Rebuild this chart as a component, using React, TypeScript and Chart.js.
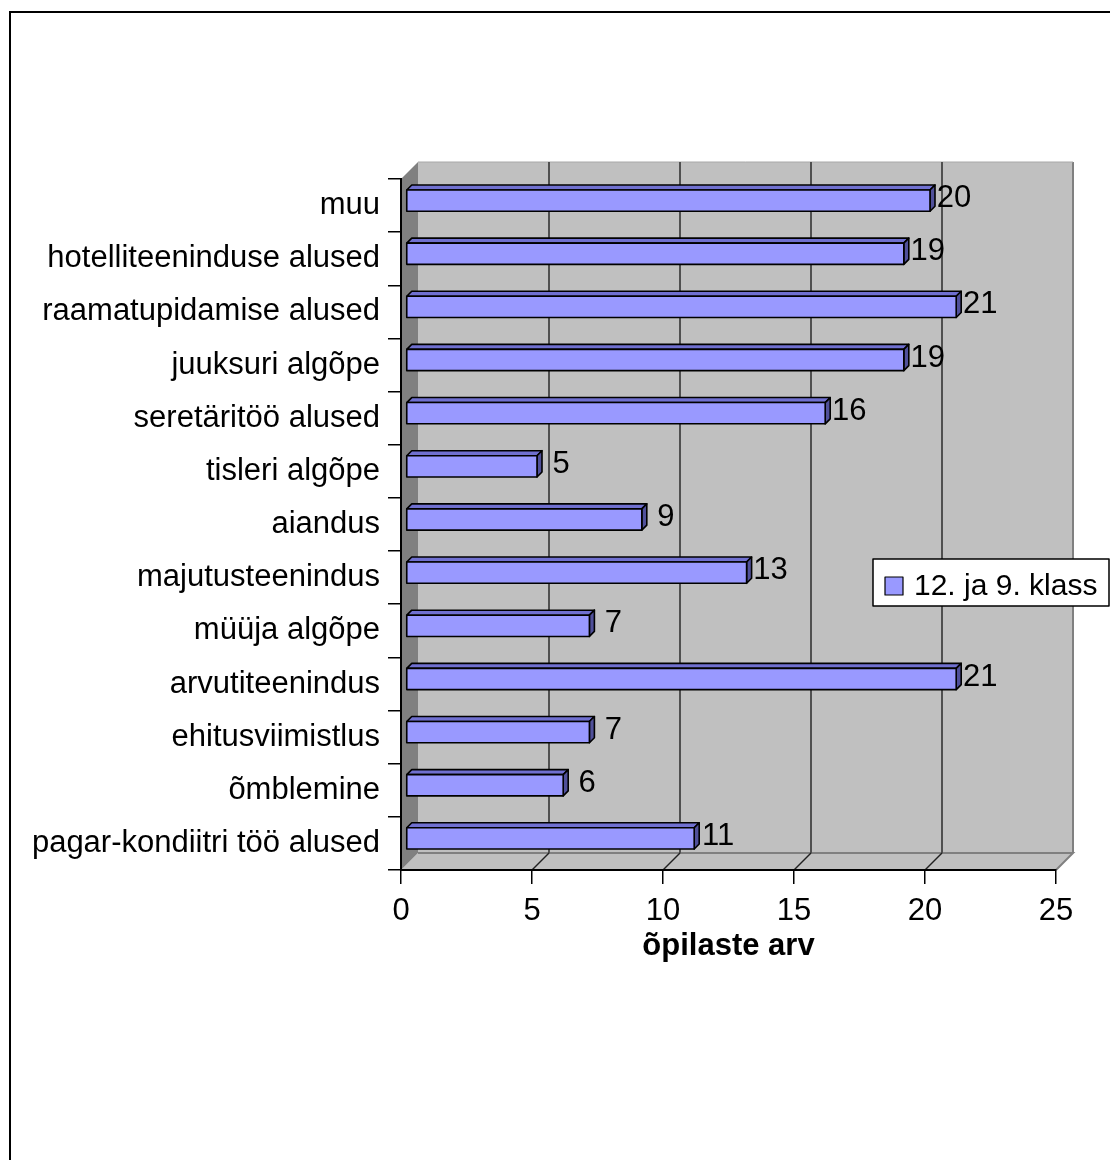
import React, { useEffect, useRef } from "react";
import { Chart, registerables } from "chart.js";

Chart.register(...registerables);

const categories = [
  "muu",
  "hotelliteeninduse alused",
  "raamatupidamise alused",
  "juuksuri algõpe",
  "seretäritöö alused",
  "tisleri algõpe",
  "aiandus",
  "majutusteenindus",
  "müüja algõpe",
  "arvutiteenindus",
  "ehitusviimistlus",
  "õmblemine",
  "pagar-kondiitri töö alused",
];
const values = [20, 19, 21, 19, 16, 5, 9, 13, 7, 21, 7, 6, 11];
const seriesLabel = "12. ja 9. klass";
const axisTitle = "õpilaste arv";
const xMin = 0;
const xMax = 25;
const xStep = 5;

const FONT = "'Liberation Sans', Arial, sans-serif";
const DEPTH = 17;
const BAR_OFF = 5;
const BAR_DEPTH = 5;

const threeD = {
  id: "threeD",
  beforeDraw(chart: any) {
    const ctx = chart.ctx;
    const xs = chart.scales.x;
    const area = chart.chartArea;
    ctx.save();
    ctx.fillStyle = "#ffffff";
    ctx.fillRect(0, 0, chart.width, chart.height);
    // outer border
    ctx.strokeStyle = "#000";
    ctx.lineWidth = 2;
    ctx.strokeRect(10, 12, 1300, 1300);

    const L = xs.getPixelForValue(xMin);
    const R = xs.getPixelForValue(xMax);
    const T = area.top;
    const B = area.bottom;
    const D = DEPTH;
    // back wall
    ctx.fillStyle = "#c0c0c0";
    ctx.fillRect(L + D, T - D, R - L, B - T);
    // floor
    ctx.beginPath();
    ctx.moveTo(L, B);
    ctx.lineTo(R, B);
    ctx.lineTo(R + D, B - D);
    ctx.lineTo(L + D, B - D);
    ctx.closePath();
    ctx.fillStyle = "#c0c0c0";
    ctx.fill();
    // left wall
    ctx.beginPath();
    ctx.moveTo(L, T);
    ctx.lineTo(L + D, T - D);
    ctx.lineTo(L + D, B - D);
    ctx.lineTo(L, B);
    ctx.closePath();
    ctx.fillStyle = "#808080";
    ctx.fill();
    // floor edges
    ctx.strokeStyle = "#808080";
    ctx.lineWidth = 2;
    ctx.beginPath();
    ctx.moveTo(L + D, B - D);
    ctx.lineTo(R + D, B - D);
    ctx.lineTo(R, B);
    ctx.moveTo(R + D, B - D);
    ctx.lineTo(R + D, T - D);
    ctx.stroke();
    ctx.strokeStyle = "#a8a8a8";
    ctx.lineWidth = 1;
    ctx.beginPath();
    ctx.moveTo(L + D, T - D);
    ctx.lineTo(R + D, T - D);
    ctx.stroke();
    // gridlines
    for (let v = xMin + xStep; v < xMax; v += xStep) {
      const px = xs.getPixelForValue(v);
      ctx.strokeStyle = "#505050";
      ctx.lineWidth = 2;
      ctx.beginPath();
      ctx.moveTo(px + D, T - D);
      ctx.lineTo(px + D, B - D);
      ctx.stroke();
      ctx.strokeStyle = "#202020";
      ctx.lineWidth = 1.5;
      ctx.beginPath();
      ctx.moveTo(px, B);
      ctx.lineTo(px + D, B - D);
      ctx.stroke();
    }
    ctx.restore();
  },
  afterDatasetsDraw(chart: any) {
    const ctx = chart.ctx;
    const meta = chart.getDatasetMeta(0);
    ctx.save();
    ctx.lineJoin = "round";
    meta.data.forEach((bar: any, i: number) => {
      const { x, y, base, height } = bar.getProps(["x", "y", "base", "height"], true);
      const o = BAR_OFF;
      const d = BAR_DEPTH;
      const x0 = base + o;
      const x1 = x + o;
      const y0 = y - height / 2 - o;
      const y1 = y + height / 2 - o;
      ctx.strokeStyle = "#000";
      ctx.lineWidth = 1.6;
      // top face
      ctx.beginPath();
      ctx.moveTo(x0, y0);
      ctx.lineTo(x1, y0);
      ctx.lineTo(x1 + d, y0 - d);
      ctx.lineTo(x0 + d, y0 - d);
      ctx.closePath();
      ctx.fillStyle = "#7070d0";
      ctx.fill();
      ctx.stroke();
      // side face
      ctx.beginPath();
      ctx.moveTo(x1, y0);
      ctx.lineTo(x1 + d, y0 - d);
      ctx.lineTo(x1 + d, y1 - d);
      ctx.lineTo(x1, y1);
      ctx.closePath();
      ctx.fillStyle = "#50509a";
      ctx.fill();
      ctx.stroke();
      // front face
      ctx.beginPath();
      ctx.rect(x0, y0, x1 - x0, y1 - y0);
      ctx.fillStyle = "#9999ff";
      ctx.fill();
      ctx.stroke();
      // value label
      ctx.fillStyle = "#000";
      ctx.font = `31px ${FONT}`;
      ctx.textAlign = "center";
      ctx.textBaseline = "middle";
      ctx.fillText(String(values[i]), x1 + 24, y - 7);
    });
    // legend
    const lx = 873;
    const ly = 559;
    const lw = 236;
    const lh = 47;
    ctx.fillStyle = "#fff";
    ctx.fillRect(lx, ly, lw, lh);
    ctx.strokeStyle = "#000";
    ctx.lineWidth = 1.5;
    ctx.strokeRect(lx, ly, lw, lh);
    ctx.fillStyle = "#9999ff";
    ctx.fillRect(885, 577, 18, 18);
    ctx.lineWidth = 1.2;
    ctx.strokeRect(885, 577, 18, 18);
    ctx.fillStyle = "#000";
    ctx.font = `30px ${FONT}`;
    ctx.textAlign = "left";
    ctx.textBaseline = "middle";
    ctx.fillText(chart.data.datasets[0].label, 914, 587);
    ctx.restore();
  },
};

export default function App() {
  const ref = useRef<HTMLCanvasElement | null>(null);
  useEffect(() => {
    if (!ref.current) return;
    const chart = new Chart(ref.current, {
      type: "bar",
      data: {
        labels: categories,
        datasets: [
          {
            label: seriesLabel,
            data: values,
            backgroundColor: "rgba(0,0,0,0)",
            borderWidth: 0,
            barPercentage: 0.4,
            categoryPercentage: 1,
          },
        ],
      },
      options: {
        indexAxis: "y",
        responsive: false,
        animation: false,
        devicePixelRatio: 1,
        layout: { padding: { left: 0, right: 54, top: 179, bottom: 180 } },
        plugins: { legend: { display: false }, tooltip: { enabled: false } },
        scales: {
          x: {
            min: xMin,
            max: xMax,
            ticks: { stepSize: xStep, color: "#000", font: { family: FONT, size: 31 }, padding: 9, maxRotation: 0 },
            grid: { drawOnChartArea: false, drawTicks: true, tickLength: 14, color: "#000", lineWidth: 1.5 },
            border: { display: true, color: "#000", width: 2 },
            title: {
              display: true,
              text: axisTitle,
              color: "#000",
              font: { family: FONT, size: 31, weight: "bold" },
              padding: { top: 0, bottom: 15 },
            },
            afterFit: (s: any) => {
              s.height = 110;
            },
          },
          y: {
            ticks: { color: "#000", font: { family: FONT, size: 31 }, padding: 8, autoSkip: false },
            grid: { drawOnChartArea: false, tickLength: 13, color: "#000", lineWidth: 1.5, offset: true },
            border: { display: true, color: "#000", width: 2 },
            afterFit: (s: any) => {
              s.width = 401;
            },
          },
        },
      } as any,
      plugins: [threeD],
    });
    return () => chart.destroy();
  }, []);
  return (
    <div style={{ position: "fixed", left: 0, top: 0, width: 1110, height: 1160, overflow: "hidden", background: "#fff" }}>
      <canvas ref={ref} width={1110} height={1160} style={{ display: "block", width: 1110, height: 1160 }} />
    </div>
  );
}
